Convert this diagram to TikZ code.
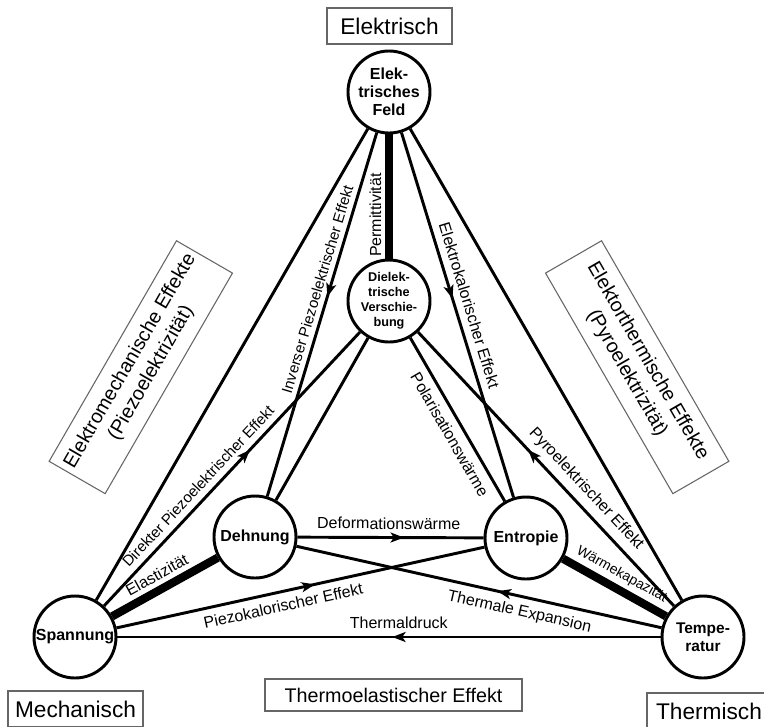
\documentclass[tikz,border=0pt]{standalone}
\usepackage{fontspec}
\setmainfont{Liberation Sans}
\usetikzlibrary{arrows.meta,decorations.markings}
\begin{document}
\begin{tikzpicture}[x=0.75pt,y=-0.75pt,
  state/.style={circle, draw, line width=2.2pt, fill=white, minimum size=61.5pt, inner sep=0pt, align=center, font=\fontsize{12}{13.7}\selectfont\bfseries},
  conn/.style={line width=2.2pt},
  heavy/.style={line width=6.2pt},
  lbl/.style={font=\fontsize{12}{14}\selectfont, sloped, inner sep=2pt},
  midarrow/.style={postaction={decorate}, decoration={markings, mark=at position #1 with {\arrow{Stealth[length=10pt,width=7.5pt,inset=2.5pt]}}}},
  area/.style={draw=black!60, line width=0.8pt, font=\fontsize{17}{20}\selectfont, inner sep=0pt},
  effect/.style={draw=black!60, line width=0.8pt, font=\fontsize{14.8}{18}\selectfont, align=center, minimum width=191pt, minimum height=48.5pt, inner sep=0pt}
]
\path[use as bounding box, fill=white] (0,0) rectangle (764,726);

% nodes
\node[state] (feld) at (389,92) {Elek-\\trisches\\Feld};
\node[state, font=\fontsize{9.5}{11.3}\selectfont\bfseries] (diel) at (389,301) {Dielek-\\trische\\Verschie-\\bung};
\node[state] (dehn) at (255,537) {Dehnung};
\node[state] (entr) at (526,538) {Entropie};
\node[state] (spann) at (75,637) {Spannung};
\node[state, font=\fontsize{11.6}{13.5}\selectfont\bfseries] (temp) at (703,637) {Tempe-\\ratur};

% connectors
\draw[heavy] (diel) -- (feld);
\draw[conn] (feld) -- (spann);
\draw[conn] (feld) -- (temp);
\draw[conn, midarrow=0.451] (feld) -- (dehn);
\draw[conn, midarrow=0.455] (feld) -- (entr);
\draw[conn] (diel) -- (dehn);
\draw[conn, midarrow=0.57] (spann) -- (diel);
\draw[conn] (diel) -- (entr);
\draw[conn, midarrow=0.57] (temp) -- (diel);
\draw[heavy] (spann) -- (dehn);
\draw[conn, midarrow=0.539] (spann) -- (entr);
\draw[conn, midarrow=0.494] (temp) -- (spann);
\draw[conn, midarrow=0.572] (dehn) -- (entr);
\draw[conn, midarrow=0.449] (temp) -- (dehn);
\draw[heavy] (entr) -- (temp);

% connector labels
\path (diel) -- node[lbl, above=3.5pt, pos=0.35] {Permittivität} (feld);
\path (dehn) -- node[lbl, above=2.5pt, pos=0.56, font=\fontsize{11.3}{13}\selectfont] {Inverser Piezoelektrischer Effekt} (feld);
\path (feld) -- node[lbl, above=4pt, pos=0.485] {Elektrokalorischer Effekt} (entr);
\path (spann) -- node[lbl, above=3.5pt, pos=0.405, font=\fontsize{11.3}{13}\selectfont] {Direkter Piezoelektrischer Effekt} (diel);
\path (diel) -- node[lbl, below=4pt, pos=0.548] {Polarisationswärme} (entr);
\path (diel) -- node[lbl, above=4pt, pos=0.612] {Pyroelektrischer Effekt} (temp);
\path (spann) -- node[lbl, above=4.5pt, pos=0.49] {Elastizität} (dehn);
\path (spann) -- node[lbl, below=4pt, pos=0.445] {Piezokalorischer Effekt} (entr);
\path (spann) -- node[lbl, above=4pt, pos=0.518] {Thermaldruck} (temp);
\path (dehn) -- node[lbl, above=4pt, pos=0.49] {Deformationswärme} (entr);
\path (dehn) -- node[lbl, below=4pt, pos=0.62] {Thermale Expansion} (temp);
\path (entr) -- node[lbl, above=4pt, pos=0.5, font=\fontsize{10.5}{12}\selectfont] {Wärmekapazität} (temp);

% area boxes
\node[area, minimum width=93.75pt, minimum height=27pt] (elbox) at (389.5,26) {Elektrisch};
\node[area, minimum width=101.25pt, minimum height=27pt] (mechbox) at (75.5,709) {Mechanisch};
\node[area, minimum width=93pt, minimum height=27pt] (thermbox) at (709,711) {Thermisch};
\node[area, font=\fontsize{14.8}{18}\selectfont, minimum width=192.75pt, minimum height=24pt] (tebox) at (393.5,695) {Thermoelastischer Effekt};
\node[effect, rotate=60] (piezo) at (140.8,367.2) {Elektromechanische Effekte\\(Piezoelektrizität)};
\node[effect, rotate=-60] (pyro) at (637.2,367.2) {Elektorthermische Effekte\\(Pyroelektrizität)};
\end{tikzpicture}
\end{document}
